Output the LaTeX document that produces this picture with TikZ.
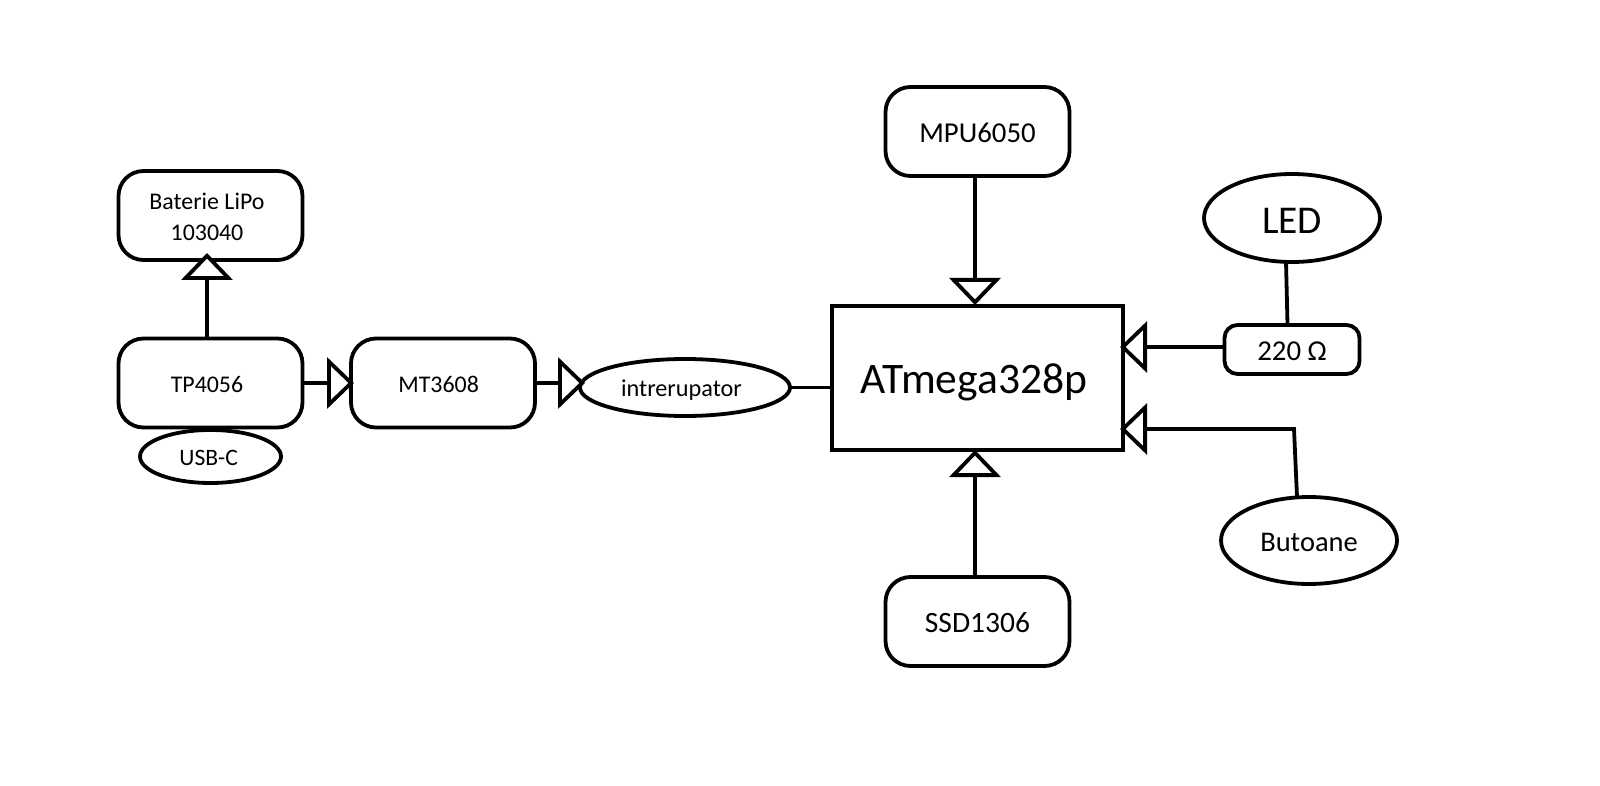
\documentclass[tikz,border=0pt]{standalone}
\usepackage{fontspec}
\usepackage{tikz}
\usetikzlibrary{arrows.meta,shapes.geometric}
\setmainfont{Carlito}
\tikzset{
    >={Triangle[open,fill=white,length=0.27cm,width=0.51cm]},
    main/.style = {draw, rectangle, rounded corners=0.25cm, minimum width=1.84cm, minimum height=0.89cm, inner sep=0pt, outer sep=0pt, font=\fontsize{6.8}{8.7}\selectfont},
    oval/.style = {draw, ellipse, inner sep=0pt, outer sep=0pt, font=\fontsize{8.1}{10}\selectfont},
    toleft/.style = {execute at end node=\hspace*{#1}}
}
\begin{document}
\begin{tikzpicture}[line width=0.038cm]
    \useasboundingbox (0,0) rectangle (16,7.85);
    \node[main, text height=5.5pt, toleft=2pt] (tp) at (2.105,4.02) {TP4056};
    \node[main, align=center, text height=14pt] (bat) [above of=tp, node distance=1.675cm] {Baterie LiPo\hspace*{2pt}\\103040\hspace*{2pt}};
    \node[main, text height=5.5pt, toleft=2.5pt] (mt) [right of=tp, node distance=2.325cm] {MT3608};
    \node[oval, minimum width=1.41cm, minimum height=0.53cm, font=\fontsize{6.7}{8}\selectfont, text height=5.2pt, toleft=1pt] (usb) [below of=tp, node distance=0.735cm] {USB-C};
    \node[oval, minimum width=2.10cm, minimum height=0.57cm, font=\fontsize{6.9}{8}\selectfont, text height=6.2pt, toleft=2pt] (intr) [right of=mt, node distance=2.42cm, yshift=-0.045cm] {intrerupator};
    \node[main, minimum width=2.91cm, minimum height=1.44cm, rounded corners=0pt, font=\fontsize{12.4}{14}\selectfont, text height=10.9pt, toleft=2pt] (atm) at (9.775,4.07) {ATmega328p};
    \node[main, font=\fontsize{8.2}{10}\selectfont, text height=6.4pt] (mpu) [above of=atm, node distance=2.465cm] {MPU6050};
    \node[main, font=\fontsize{8.4}{10}\selectfont, text height=6.5pt] (ssd) [below of=atm, node distance=2.435cm] {SSD1306};
    \node[oval, minimum width=1.76cm, minimum height=0.88cm, font=\fontsize{11.2}{13}\selectfont, text height=8.75pt] (led) at (12.92,5.67) {LED};
    \node[main, minimum width=1.35cm, minimum height=0.49cm, rounded corners=0.13cm, font=\fontsize{8.2}{10}\selectfont, text height=6.1pt] (res) [below of=led, node distance=1.315cm] {220 Ω};
    \node[oval, minimum width=1.76cm, minimum height=0.87cm, text height=6.4pt] (but) at (13.09,2.445) {Butoane};
    \coordinate (butbend) at (12.94,3.56);
    \draw[->, shorten >=-0.07cm] ([xshift=-0.035cm]tp.north) -- ([xshift=-0.035cm]bat.south);
    \draw[->, shorten >=-0.03cm] (tp) -- (mt);
    \draw[->, shorten >=-0.05cm] (mt.east) -- (mt.east -| intr.west);
    \draw (intr.east) -- (intr.east -| atm.west);
    \draw[->, shorten >=0.01cm] ([xshift=-0.025cm]mpu.south) -- ([xshift=-0.025cm]atm.north);
    \draw[->] ([xshift=-0.025cm]ssd.north) -- ([xshift=-0.025cm]atm.south);
    \draw[->, shorten >=-0.03cm] ([yshift=0.025cm]res.west) -- ([yshift=0.025cm]res.west -| atm.east);
    \draw ([xshift=-0.06cm]led.south) -- ([xshift=-0.045cm]res.north);
    \draw[->, shorten >=-0.03cm] ([xshift=-0.12cm]but.north) -- (butbend) -- (butbend -| atm.east);
\end{tikzpicture}
\end{document}
